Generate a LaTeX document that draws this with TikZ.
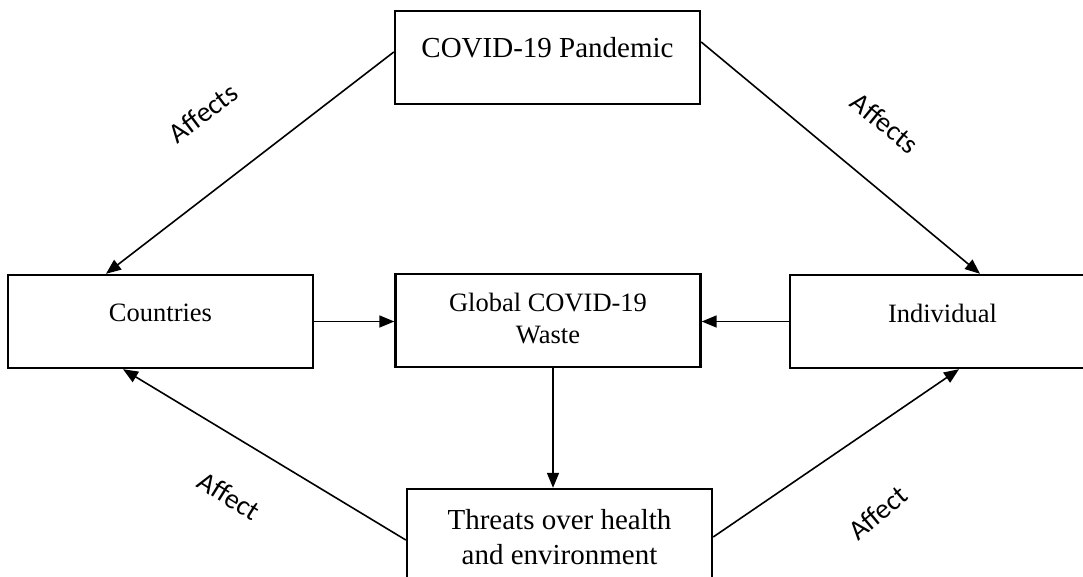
\documentclass[tikz,border=0pt]{standalone}
\usepackage{fontspec}
\setmainfont{Liberation Serif}
\newfontfamily\lblfont{Carlito}
\usetikzlibrary{arrows.meta,calc}
\tikzset{
  boxshape/.style={draw=black,line width=2.4pt,minimum width=305pt,minimum height=93pt,inner sep=0pt},
  bigtxt/.style={font=\fontsize{29}{35}\selectfont,align=center,inner sep=0pt},
  midtxt/.style={font=\fontsize{26.5}{32}\selectfont,align=center,inner sep=0pt},
  lbl/.style={font=\lblfont\fontsize{28}{32}\selectfont,inner sep=0pt},
  conn/.style={line width=1.6pt,-{Triangle[length=15pt,width=12pt]}}
}
\begin{document}
\begin{tikzpicture}[x=1pt,y=-1pt]
\useasboundingbox (0,0) rectangle (1083,577);
\clip (0,0) rectangle (1083,577);
\fill[white] (0,0) rectangle (1083,577);
% boxes
\node[boxshape] (covid) at (547.5,57.5) {};
\node[boxshape] (countries) at (160.5,321.5) {};
\node[boxshape] (global) at (548,320.5) {};
\node[boxshape] (individual) at (942.5,321.5) {};
\node[boxshape] (threats) at (559.5,535.5) {};
% box texts
\node[bigtxt] (covidt) at (547.5,48) {COVID-19 Pandemic};
\node[midtxt] (countriest) at (160.5,313) {Countries};
\node[midtxt] (globalt) at (548,319) {Global COVID-19\\Waste};
\node[midtxt] (individualt) at (942.5,313) {Individual};
\node[bigtxt] (threatst) at (559.5,537.5) {Threats over health\\and environment};
% connectors
\draw[conn] ([yshift=5.5pt]covid.west) -- ([xshift=-54.5pt]countries.north);
\draw[conn] ([yshift=15.5pt]covid.east) -- ([xshift=37.5pt]individual.north);
\draw[conn] (countries.east) -- (countries.east -| global.west);
\draw[conn] (individual.west) -- (individual.west -| global.east);
\draw[conn] ([xshift=5pt]global.south) -- ([xshift=5pt]global.south |- threats.north);
\draw[conn] ([yshift=-4.5pt]threats.west) -- ([xshift=-37.5pt]countries.south);
\draw[conn] ([yshift=-1.5pt]threats.east) -- ([xshift=16.5pt]individual.south);
% labels
\node[lbl,rotate=37] (l1) at (203,113) {Affects};
\node[lbl,rotate=-39] (l2) at (885,123) {Affects};
\node[lbl,rotate=-32] (l3) at (229,496) {Affect};
\node[lbl,rotate=40] (l4) at (878,513) {Affect};
\end{tikzpicture}
\end{document}
